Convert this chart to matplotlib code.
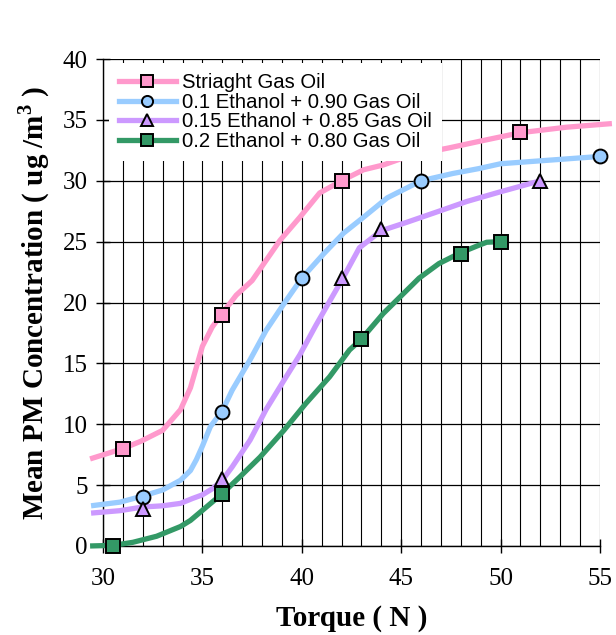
import numpy as np
import matplotlib.pyplot as plt
from matplotlib.ticker import MultipleLocator

plt.rcParams['font.family'] = 'Liberation Serif'
plt.rcParams['mathtext.fontset'] = 'custom'
plt.rcParams['mathtext.rm'] = 'Liberation Serif'
plt.rcParams['mathtext.bf'] = 'Liberation Serif:bold'

labels = ['Striaght Gas Oil',
          '0.1 Ethanol + 0.90 Gas Oil',
          '0.15 Ethanol + 0.85 Gas Oil',
          '0.2 Ethanol + 0.80 Gas Oil']
colors = ['#FF99CC', '#99CCFF', '#CC99FF', '#339966']
markers = ['s', 'o', '^', 's']

# measured points (torque, PM)
gas_x = [31, 36, 42, 51]
gas_y = [8, 19, 30, 34]
e10_x = [32, 36, 40, 46, 55]
e10_y = [4, 11, 22, 30, 32]
e15_x = [32, 36, 42, 44, 52]
e15_y = [3, 5.5, 22, 26, 30]
e20_x = [30.5, 36, 43, 48, 50]
e20_y = [0, 4.3, 17, 24, 25]

# hand-smoothed trend lines
gas_lx = [29.35, 31, 31.9, 33.0, 33.9, 34.4, 35.0, 35.5, 36, 36.7, 37.5, 38.9,
          39.9, 40.9, 42, 43.1, 44.1, 45.5, 47.4, 49.1, 51, 53.3, 55.6]
gas_ly = [7.15, 8, 8.6, 9.5, 11.2, 13.0, 16.4, 18, 19.1, 20.6, 21.8, 25.1,
          27.0, 29.0, 30, 30.9, 31.3, 32.1, 32.7, 33.3, 33.95, 34.4, 34.7]
e10_lx = [29.4, 30.85, 32, 33.0, 33.9, 34.4, 34.7, 35.0, 35.4, 36, 36.5, 37.4,
          38.2, 39.1, 40, 41.1, 42.1, 43.1, 44.3, 46, 47.6, 48.9, 50, 52.5, 55]
e10_ly = [3.3, 3.6, 4.1, 4.6, 5.4, 6.2, 7.1, 8.2, 9.8, 11.1, 12.8, 15.3,
          17.7, 19.9, 22, 24.0, 25.7, 27.0, 28.6, 30, 30.6, 31.0, 31.4, 31.7, 32]
e15_lx = [29.4, 30.85, 32, 33, 33.9, 34.5, 35.0, 35.5, 36, 36.5, 37.4, 38.2,
          39.1, 39.9, 40.7, 41.4, 42, 42.9, 44, 45.3, 46.9, 48.3, 50, 52]
e15_ly = [2.7, 2.9, 3.2, 3.3, 3.5, 3.9, 4.2, 4.7, 5.4, 6.5, 8.7, 11.2,
          13.6, 15.7, 18.1, 20.1, 21.8, 24.5, 25.9, 26.6, 27.5, 28.3, 29.1, 30]
e20_lx = [29.35, 30.5, 31.5, 32.7, 33.9, 34.4, 35.2, 36, 36.9, 37.9, 39.1,
          40.2, 41.4, 42.4, 43, 44.1, 45.9, 46.9, 48, 48.9, 49.3, 50]
e20_ly = [0, 0.05, 0.3, 0.8, 1.6, 2.1, 3.2, 4.3, 5.7, 7.3, 9.5,
          11.7, 13.9, 16.1, 17, 19.1, 22.0, 23.2, 24.1, 24.7, 24.95, 25.0]

points = [(gas_x, gas_y), (e10_x, e10_y), (e15_x, e15_y), (e20_x, e20_y)]
lines = [(gas_lx, gas_ly), (e10_lx, e10_ly), (e15_lx, e15_ly), (e20_lx, e20_ly)]

fig = plt.figure(figsize=(6.16, 6.35), dpi=100)
ax = fig.add_axes([0.1672, 0.1402, 0.8068, 0.7668])

handles = []
for (lx, ly), (px, py), c, m, lab in zip(lines, points, colors, markers, labels):
    ax.plot(lx, ly, color=c, lw=3.8, solid_capstyle='butt',
            solid_joinstyle='round', clip_on=False, zorder=3)
    ax.plot(px, py, ls='none', marker=m, ms=10, mfc=c, mec='black', mew=1.4,
            clip_on=False, zorder=4)
    h, = ax.plot([], [], color=c, lw=3.8, marker=m, ms=8, mfc=c, mec='black',
                 mew=1.4, label=lab)
    handles.append(h)

ax.set_xlim(30, 55)
ax.set_ylim(0, 40)
ax.xaxis.set_major_locator(MultipleLocator(5))
ax.xaxis.set_minor_locator(MultipleLocator(1))
ax.yaxis.set_major_locator(MultipleLocator(5))
ax.grid(True, which='major', axis='y', color='black', lw=0.9)
ax.grid(True, which='both', axis='x', color='black', lw=0.8)
ax.set_axisbelow(True)
for s in ['top', 'right']:
    ax.spines[s].set_visible(False)
for s in ['left', 'bottom']:
    ax.spines[s].set_linewidth(1.0)

ax.tick_params(axis='both', which='major', labelsize=18, direction='inout',
               length=10, width=1.0)
ax.tick_params(axis='x', which='minor', length=0)
ax.tick_params(axis='x', pad=11)
ax.tick_params(axis='y', pad=6)

ax.set_xlabel('Torque ( N )', fontsize=21, fontweight='bold', labelpad=11)
ax.set_ylabel('Mean PM Concentration ( ug /m$^{\\mathregular{3}}$ )',
              fontsize=21, fontweight='bold', labelpad=8)

leg = ax.legend(handles=handles, loc='upper left', bbox_to_anchor=(0.012, 0.992),
                prop={'family': 'Liberation Sans', 'size': 14.6},
                frameon=True, fancybox=False, edgecolor='none',
                facecolor='white', framealpha=1, handlelength=2.8,
                handletextpad=0.3, labelspacing=0.03, borderpad=0.5,
                borderaxespad=0)
leg.set_zorder(5)

fig.savefig('out.png', dpi=100)
